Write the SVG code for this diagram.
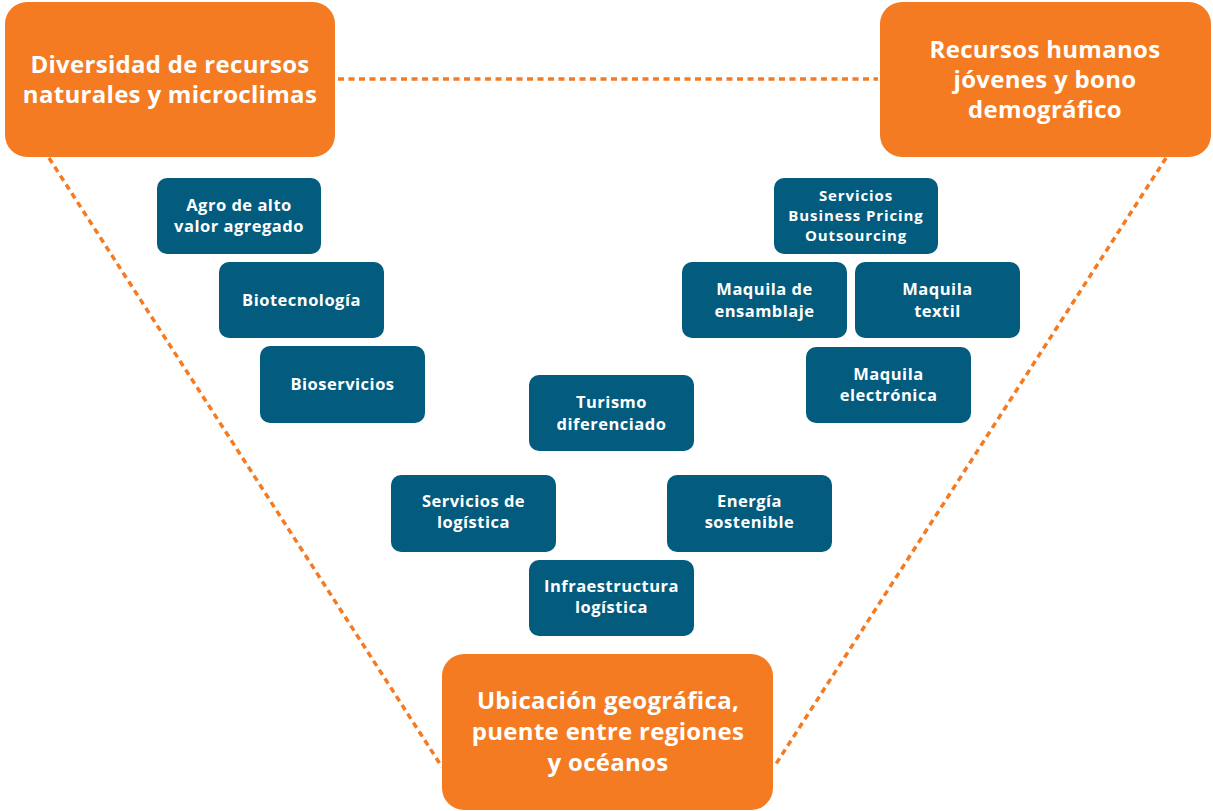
<svg xmlns="http://www.w3.org/2000/svg" width="1213" height="811" viewBox="0 0 1213 811">
<style>
.o{fill:#F47B22}
.b{fill:#035B7E}
.to{font-family:"Open Sans",Lato,"Liberation Sans",sans-serif;font-weight:700;font-size:24px;letter-spacing:0.3px;fill:#fff;text-anchor:middle}
.tb{font-family:"Open Sans",Lato,"Liberation Sans",sans-serif;font-weight:700;font-size:16.5px;letter-spacing:0.5px;fill:#fff;text-anchor:middle}
.ts{font-size:15px;letter-spacing:0.9px}
.c{fill:none;stroke:#F47B22;stroke-width:3.5;stroke-dasharray:6 4.5}
</style>
<rect width="1213" height="811" fill="#fff"/>
<g id="connectors">
<line class="c" x1="338" y1="79" x2="878" y2="79"/>
<line class="c" x1="49" y1="158" x2="442" y2="767"/>
<line class="c" x1="1166" y1="158" x2="774" y2="767"/>
</g>
<g id="n-diversidad"><rect class="o" x="5" y="2" width="330" height="155" rx="22"/><text class="to" x="170" y="73">Diversidad de recursos</text><text class="to" x="170" y="103">naturales y microclimas</text></g>
<g id="n-recursos"><rect class="o" x="880" y="2" width="331" height="155" rx="22"/><text class="to" x="1045" y="58">Recursos humanos</text><text class="to" x="1045" y="88">jóvenes y bono</text><text class="to" x="1045" y="118">demográfico</text></g>
<g id="n-ubicacion"><rect class="o" x="442" y="654" width="331" height="156" rx="22"/><text class="to" x="608" y="709">Ubicación geográfica,</text><text class="to" x="608" y="740">puente entre regiones</text><text class="to" x="608" y="771">y océanos</text></g>
<g id="n-agro"><rect class="b" x="157" y="178" width="164" height="76" rx="10"/><text class="tb" x="239" y="211">Agro de alto</text><text class="tb" x="239" y="232">valor agregado</text></g>
<g id="n-biotec"><rect class="b" x="219" y="262" width="165" height="76" rx="10"/><text class="tb" x="301.5" y="306">Biotecnología</text></g>
<g id="n-bioserv"><rect class="b" x="260" y="346" width="165" height="77" rx="10"/><text class="tb" x="342.5" y="390">Bioservicios</text></g>
<g id="n-bpo"><rect class="b" x="774" y="178" width="164" height="76" rx="10"/><text class="tb ts" x="856" y="201">Servicios</text><text class="tb ts" x="856" y="221">Business Pricing</text><text class="tb ts" x="856" y="241">Outsourcing</text></g>
<g id="n-ensamblaje"><rect class="b" x="682" y="262" width="165" height="76" rx="10"/><text class="tb" x="764.5" y="295">Maquila de</text><text class="tb" x="764.5" y="317">ensamblaje</text></g>
<g id="n-textil"><rect class="b" x="855" y="262" width="165" height="76" rx="10"/><text class="tb" x="937.5" y="295">Maquila</text><text class="tb" x="937.5" y="317">textil</text></g>
<g id="n-electronica"><rect class="b" x="806" y="347" width="165" height="76" rx="10"/><text class="tb" x="888.5" y="380">Maquila</text><text class="tb" x="888.5" y="401">electrónica</text></g>
<g id="n-turismo"><rect class="b" x="529" y="375" width="165" height="76" rx="10"/><text class="tb" x="611.5" y="408">Turismo</text><text class="tb" x="611.5" y="430">diferenciado</text></g>
<g id="n-servlog"><rect class="b" x="391" y="475" width="165" height="77" rx="10"/><text class="tb" x="473.5" y="507">Servicios de</text><text class="tb" x="473.5" y="528">logística</text></g>
<g id="n-energia"><rect class="b" x="667" y="475" width="165" height="77" rx="10"/><text class="tb" x="749.5" y="507">Energía</text><text class="tb" x="749.5" y="528">sostenible</text></g>
<g id="n-infra"><rect class="b" x="529" y="560" width="165" height="76" rx="10"/><text class="tb" x="611.5" y="592">Infraestructura</text><text class="tb" x="611.5" y="613">logística</text></g>
</svg>
